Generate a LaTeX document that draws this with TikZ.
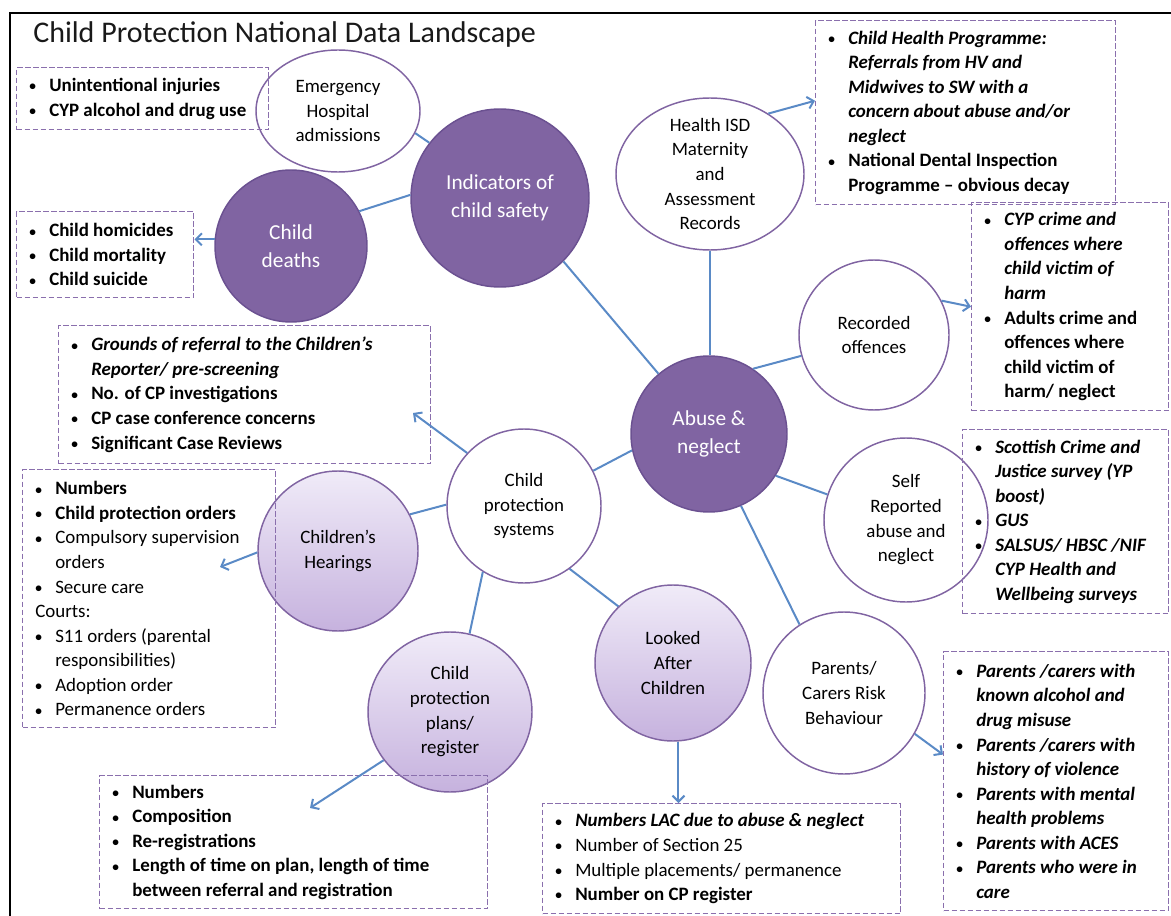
\documentclass[tikz,border=0pt]{standalone}
\usepackage{fontspec}
\setmainfont{Carlito}
\usetikzlibrary{shapes.geometric,arrows.meta}
\definecolor{cpurple}{HTML}{8064A2}
\definecolor{dpurple}{HTML}{6B5191}
\definecolor{boxpurple}{HTML}{8A6FAD}
\definecolor{ltop}{HTML}{F0EBF8}
\definecolor{lbot}{HTML}{C6B2DE}
\definecolor{lineblue}{HTML}{5A8AC6}
\newcommand\bpt{\makebox[15pt][l]{\raisebox{0.5pt}{\fontsize{10}{10}\selectfont\textbullet}}}
\newcommand\bcont{\hspace*{15pt}}
\newcommand\bi[1]{\textit{#1}}
\newcommand\rg[1]{\textmd{#1}}
\tikzset{
  box/.style={draw=boxpurple, dash pattern=on 4pt off 2pt, line width=1.1pt, anchor=north west, inner sep=0pt},
  btext/.style={anchor=west, align=left, inner sep=0pt, font=\fontsize{14.2}{18.4}\selectfont\bfseries},
  wcirc/.style={circle, draw=cpurple, line width=1.1pt, fill=white, inner sep=0pt},
  wellip/.style={ellipse, draw=cpurple, line width=1.1pt, fill=white, inner sep=0pt},
  dcirc/.style={circle, draw=dpurple, fill=cpurple, line width=1.1pt, inner sep=0pt},
  lcirc/.style={circle, draw=cpurple, top color=ltop, bottom color=lbot, line width=1.1pt, inner sep=0pt},
  lellip/.style={ellipse, draw=cpurple, top color=ltop, bottom color=lbot, line width=1.1pt, inner sep=0pt},
  ctext/.style={align=center, font=\fontsize{14.2}{18.5}\selectfont, inner sep=0pt},
  dtext/.style={align=center, text=white, font=\fontsize{16}{21}\selectfont, inner sep=0pt},
  conn/.style={draw=lineblue, line width=1.5pt},
  arr/.style={conn, -{Straight Barb[length=4.5pt,width=9pt]}}
}
\begin{document}
\begin{tikzpicture}[x=0.75pt,y=-0.75pt]
\useasboundingbox (0,0) rectangle (1171,916);
\draw[black, line width=0.8pt] (10,916) -- (10,13) -- (1171,13);
\node[anchor=base west, inner sep=0pt, text=black!90, font=\fontsize{22.5}{26}\selectfont] (title) at (33,43) {Child Protection National Data Landscape};

% circles
\node[wellip, minimum width=123pt, minimum height=91.5pt, label={[ctext]center:{Emergency\\Hospital\\admissions}}] (emerg) at (338,111) {};
\node[dcirc, minimum size=133.5pt, label={[dtext]center:{Indicators of\\child safety}}] (ind) at (500,198) {};
\node[dcirc, minimum size=114pt, label={[dtext]center:{Child\\deaths}}] (cd) at (291,246) {};
\node[wellip, minimum width=141pt, minimum height=114pt, label={[ctext]center:{Health ISD\\Maternity\\and\\Assessment\\Records}}] (health) at (710,174) {};
\node[wcirc, minimum size=112.5pt, label={[ctext]center:{Recorded\\offences}}] (rec) at (874,335) {};
\node[dcirc, minimum size=117pt, label={[dtext]center:{Abuse \&\\neglect}}] (abuse) at (709,434) {};
\node[wcirc, minimum size=123pt, label={[ctext]center:{Self\\Reported\\abuse and\\neglect}}] (self) at (906,520) {};
\node[wcirc, minimum size=121.5pt, label={[ctext]center:{Parents/\\Carers Risk\\Behaviour}}] (par) at (844,693) {};
\node[wcirc, minimum size=115.5pt, label={[ctext]center:{Child\\protection\\systems}}] (cps) at (524,506) {};
\node[lcirc, minimum size=120pt, label={[ctext]center:{Children’s\\Hearings}}] (ch) at (338,551) {};
\node[lellip, minimum width=123pt, minimum height=120pt, label={[ctext]center:{Child\\protection\\plans/\\register}}] (cpp) at (450,712) {};
\node[lcirc, minimum size=117pt, label={[ctext]center:{Looked\\After\\Children}}] (lac) at (673,663) {};

% boxes
\node[box, minimum width=189pt, minimum height=46.5pt] (b1) at (16,67) {};
\node[btext] (b1t) at ([xshift=9.75pt]b1.west) {\bpt Unintentional injuries\\\bpt CYP alcohol and drug use};

\node[box, minimum width=132.75pt, minimum height=64.5pt] (b2) at (16,211) {};
\node[btext] (b2t) at ([xshift=9.75pt]b2.west) {\bpt Child homicides\\\bpt Child mortality\\\bpt Child suicide};

\node[box, minimum width=225pt, minimum height=138pt] (b3) at (815,20) {};
\node[btext] (b3t) at ([xshift=9.75pt]b3.west) {\bpt \bi{Child Health Programme:}\\\bcont \bi{Referrals from HV and}\\\bcont \bi{Midwives to SW with a}\\\bcont \bi{concern about abuse and/or}\\\bcont \bi{neglect}\\\bpt National Dental Inspection\\\bcont Programme – obvious decay};

\node[box, minimum width=147.75pt, minimum height=156pt] (b4) at (971,202) {};
\node[btext] (b4t) at ([xshift=9.75pt]b4.west) {\bpt \bi{CYP crime and}\\\bcont \bi{offences where}\\\bcont \bi{child victim of}\\\bcont \bi{harm}\\\bpt Adults crime and\\\bcont offences where\\\bcont child victim of\\\bcont harm/ neglect};

\node[box, minimum width=279pt, minimum height=103.5pt] (b5) at (58,325) {};
\node[btext] (b5t) at ([xshift=9.75pt]b5.west) {\bpt \bi{Grounds of referral to the Children’s}\\\bcont \bi{Reporter/ pre-screening}\\\bpt No. of CP investigations\\\bpt CP case conference concerns\\\bpt Significant Case Reviews};

\node[box, minimum width=154.5pt, minimum height=138pt] (b6) at (962,429) {};
\node[btext] (b6t) at ([xshift=9.75pt]b6.west) {\bpt \bi{Scottish Crime and}\\\bcont \bi{Justice survey (YP}\\\bcont \bi{boost)}\\\bpt \bi{GUS}\\\bpt \bi{SALSUS/ HBSC /NIF}\\\bcont \bi{CYP Health and}\\\bcont \bi{Wellbeing surveys}};

\node[box, minimum width=189.75pt, minimum height=193.5pt] (b7) at (22,469) {};
\node[btext] (b7t) at ([xshift=9.75pt]b7.west) {\bpt Numbers\\\bpt Child protection orders\\\bpt \rg{Compulsory supervision}\\\bcont \rg{orders}\\\bpt \rg{Secure care}\\\rg{Courts:}\\\bpt \rg{S11 orders (parental}\\\bcont \rg{responsibilities)}\\\bpt \rg{Adoption order}\\\bpt \rg{Permanence orders}};

\node[box, minimum width=168.75pt, minimum height=194.25pt] (b8) at (943,651) {};
\node[btext] (b8t) at ([xshift=9.75pt]b8.west) {\bpt \bi{Parents /carers with}\\\bcont \bi{known alcohol and}\\\bcont \bi{drug misuse}\\\bpt \bi{Parents /carers with}\\\bcont \bi{history of violence}\\\bpt \bi{Parents with mental}\\\bcont \bi{health problems}\\\bpt \bi{Parents with ACES}\\\bpt \bi{Parents who were in}\\\bcont \bi{care}};

\node[box, minimum width=291pt, minimum height=99.75pt] (b9) at (99,775) {};
\node[btext] (b9t) at ([xshift=9.75pt]b9.west) {\bpt Numbers\\\bpt Composition\\\bpt Re-registrations\\\bpt Length of time on plan, length of time\\\bcont between referral and registration};

\node[box, minimum width=268.5pt, minimum height=82.5pt] (b10) at (542,803) {};
\node[btext] (b10t) at ([xshift=9.75pt]b10.west) {\bpt \bi{Numbers LAC due to abuse \& neglect}\\\bpt \rg{Number of Section 25}\\\bpt \rg{Multiple placements/ permanence}\\\bpt Number on CP register};

% free arrow ends
\coordinate (t5) at (413,413);
\coordinate (t7) at (220,567);
\coordinate (t9) at (310,808);

% connectors
\draw[conn] (emerg.-16) -- (ind.142);
\draw[conn] (cd.27) -- (ind.178);
\draw[conn] (ind.-45) -- (abuse.130);
\draw[conn] (health.south) -- (health.south |- abuse.north);
\draw[conn] (abuse.56) -- (rec.196);
\draw[conn] (abuse.-32) -- (self.162);
\draw[conn] (abuse.-66) -- (par.123);
\draw[conn] (abuse.192) -- (cps.27);
\draw[conn] (ch.27) -- (cps.179);
\draw[conn] (cps.238) -- (cpp.76);
\draw[conn] (cps.-54) -- (lac.134);

\draw[arr] (cd.175) -- (cd.175 -| b2.east);
\draw[arr] (health.46) -- ([yshift=9pt]b3.west);
\draw[arr] (rec.27) -- (b4.west);
\draw[arr] (par.-30) -- ([yshift=20pt]b8.west);
\draw[arr] (cps.137) -- (t5);
\draw[arr] (ch.181) -- (t7);
\draw[arr] (cpp.216) -- (t9);
\draw[arr] (lac.-86) -- (lac.-86 |- b10.north);
\end{tikzpicture}
\end{document}
